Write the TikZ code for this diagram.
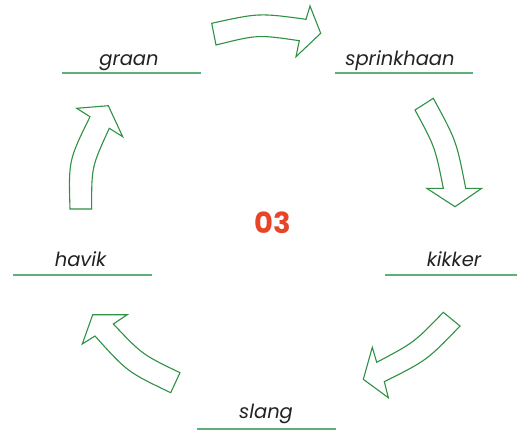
\documentclass[tikz,border=0pt]{standalone}
\usepackage{fontspec}
\setmainfont{Poppins}
\definecolor{arrowgreen}{RGB}{47,145,67}
\definecolor{linegreen}{RGB}{95,175,120}
\definecolor{txtgray}{RGB}{34,34,34}
\definecolor{numred}{RGB}{232,69,40}
\tikzset{
  cyclearrow/.style={draw=arrowgreen, line width=1.1pt, line join=miter, fill=white},
  lbl/.style={anchor=base, font=\fontsize{19.5}{22}\selectfont\itshape, text=txtgray, inner sep=0pt},
  uline/.style={draw=linegreen, line width=1.6pt},
  num/.style={anchor=base, font=\fontsize{29}{32}\selectfont\bfseries, text=numred, inner sep=0pt}
}
\begin{document}
\begin{tikzpicture}[x=1pt,y=-1pt]
\useasboundingbox (0,0) rectangle (518,433);
% labels
\node[lbl] (graan) at (129,65.7) {graan};
\node[lbl] (sprinkhaan) at (400,65.7) {sprinkhaan};
\node[lbl] (havik) at (80.5,266.7) {havik};
\node[lbl] (kikker) at (454,266.7) {kikker};
\node[lbl] (slang) at (266,418) {slang};
\node[num] (num) at (273,233.3) {03};
% underlines
\coordinate (g1) at (61.7,73.3); \coordinate (g2) at (200.7,73.3);
\coordinate (s1) at (335,73.3); \coordinate (s2) at (473.3,73.3);
\coordinate (h1) at (13.3,275); \coordinate (h2) at (151.7,275);
\coordinate (k1) at (385,275); \coordinate (k2) at (516.7,275);
\coordinate (l1) at (196.7,429); \coordinate (l2) at (336,429);
\draw[uline] (g1) -- (g2);
\draw[uline] (s1) -- (s2);
\draw[uline] (h1) -- (h2);
\draw[uline] (k1) -- (k2);
\draw[uline] (l1) -- (l2);
% arrow 1 (top)
\draw[cyclearrow] (211.7,23.3) .. controls (258.8,12.9) .. (306,19.3)
  -- (310,6) -- (320.7,33.3) -- (296,56.7) -- (299.3,40.7)
  .. controls (257.7,34.6) .. (216,45) -- cycle;
% arrow 2 (right top)
\draw[cyclearrow] (415,110) -- (433.3,98.3) .. controls (456.4,140.8) .. (465.7,188.3)
  -- (481.7,188.3) -- (455,206.7) -- (426.7,188.3) -- (443.3,188.3)
  .. controls (435.1,147.1) .. (415,110) -- cycle;
% arrow 3 (bottom right)
\draw[cyclearrow] (443.3,312.3) -- (460,326) .. controls (427,360.3) .. (384.3,381.7)
  -- (388.3,397.7) -- (363.3,379.3) -- (372.3,347.3) -- (376.7,362.3)
  .. controls (414,342.6) .. (443.3,312.3) -- cycle;
% arrow 4 (bottom left)
\draw[cyclearrow] (113.3,324) -- (127.3,314.7) -- (92.7,314.7) -- (82.3,344) -- (95,336)
  .. controls (127.3,371.9) .. (170.7,392.7) -- (180,372.7)
  .. controls (142.2,354.5) .. (113.3,324) -- cycle;
% arrow 5 (left)
\draw[cyclearrow] (70,209) -- (91.7,209) .. controls (91.5,167.1) .. (109.3,128.3)
  -- (122.7,136.7) -- (108.3,105.7) -- (76.7,108.3) -- (90,116.7)
  .. controls (68.5,160.6) .. (70,209) -- cycle;
\end{tikzpicture}
\end{document}
